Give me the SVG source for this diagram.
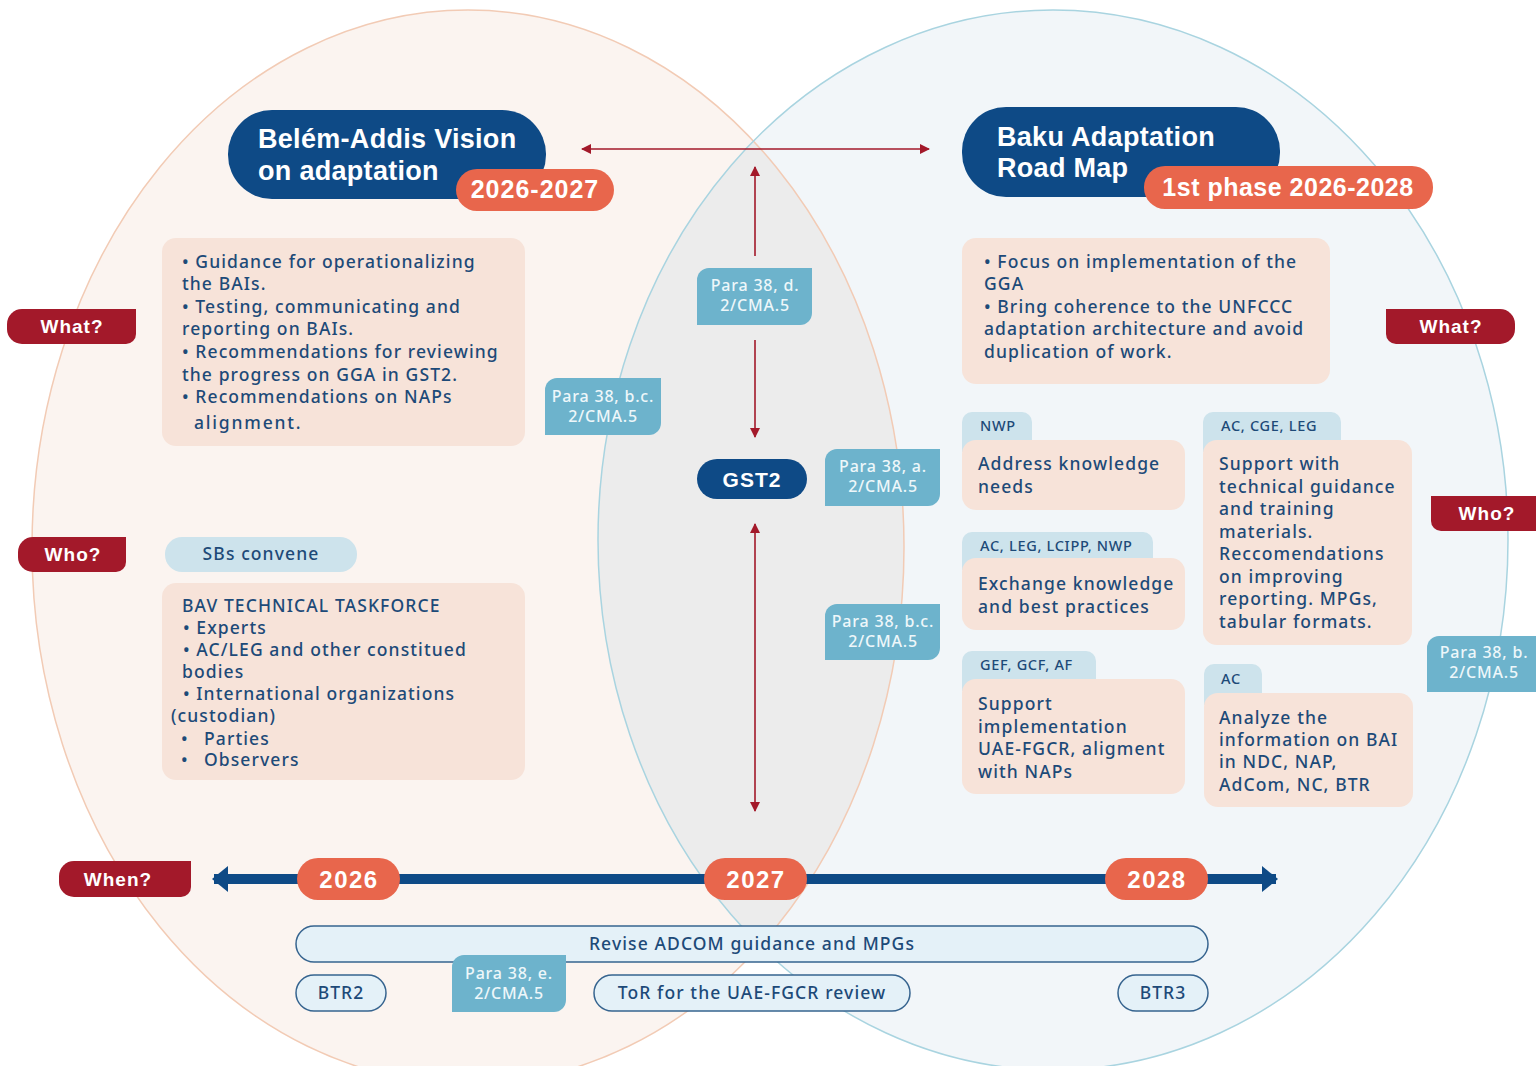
<svg xmlns="http://www.w3.org/2000/svg" width="1536" height="1066" viewBox="0 0 1536 1066">
<style>
.body{font-family:"Noto Sans",sans-serif;font-weight:500;font-size:17.5px;fill:#1d4a78;letter-spacing:1.1px}
.tab{font-family:"Noto Sans",sans-serif;font-weight:500;font-size:14.5px;fill:#1d4a78;letter-spacing:0.7px}
.tag{font-family:"Noto Sans",sans-serif;font-weight:500;font-size:16px;fill:#eef7fa;letter-spacing:0.8px;text-anchor:middle}
.lbl{font-family:"Liberation Sans",sans-serif;font-weight:bold;font-size:19px;fill:#ffffff;letter-spacing:1px;text-anchor:middle}
.title{font-family:"Liberation Sans",sans-serif;font-weight:bold;font-size:27px;fill:#ffffff;letter-spacing:0.3px}
.yr{font-family:"Liberation Sans",sans-serif;font-weight:bold;font-size:24px;fill:#ffffff;letter-spacing:1.5px;text-anchor:middle}
.peach{fill:#f7e3d9}
.lblue{fill:#cde3ec}
.tagf{fill:#6db3cc}
.red{fill:#a3192a}
.navy{fill:#0e4a86}
.orange{fill:#e8664c}
.pill{fill:#e4f1f8;stroke:#36648f;stroke-width:1.5}
.ra{stroke:#a3192a;stroke-width:1.6;fill:none}
</style>
<defs>
<clipPath id="clipR"><ellipse cx="1053" cy="540" rx="455" ry="530"/></clipPath>
<marker id="ah" viewBox="0 0 10 10" refX="9" refY="5" markerWidth="10" markerHeight="10" markerUnits="userSpaceOnUse" orient="auto-start-reverse"><path d="M0,0 L10,5 L0,10 Z" fill="#a3192a"/></marker>
<marker id="bh" viewBox="0 0 16 26" refX="14" refY="13" markerWidth="16" markerHeight="26" markerUnits="userSpaceOnUse" orient="auto-start-reverse"><path d="M0,0 L16,13 L0,26 Z" fill="#0e4a86"/></marker>
</defs>

<g id="background">
<ellipse cx="468" cy="547" rx="436" ry="537" fill="#fbf4f0"/>
<ellipse cx="1053" cy="540" rx="455" ry="530" fill="#f2f6f9"/>
<ellipse cx="468" cy="547" rx="436" ry="537" fill="#ececec" clip-path="url(#clipR)"/>
<ellipse cx="468" cy="547" rx="436" ry="537" fill="none" stroke="#f2cbb5" stroke-width="1.5"/>
<ellipse cx="1053" cy="540" rx="455" ry="530" fill="none" stroke="#a9d4e0" stroke-width="1.5"/>
</g>

<g id="connectors">
<line class="ra" x1="582" y1="149" x2="929" y2="149" marker-start="url(#ah)" marker-end="url(#ah)"/>
<line class="ra" x1="755" y1="256" x2="755" y2="167" marker-end="url(#ah)"/>
<line class="ra" x1="755" y1="340" x2="755" y2="437" marker-end="url(#ah)"/>
<line class="ra" x1="755" y1="524" x2="755" y2="811" marker-start="url(#ah)" marker-end="url(#ah)"/>
<line x1="214" y1="879" x2="1276" y2="879" stroke="#0e4a86" stroke-width="10" marker-start="url(#bh)" marker-end="url(#bh)"/>
</g>

<g id="bav-title">
<rect x="228" y="110" width="318" height="89" rx="44" class="navy"/>
<text class="title" x="258" y="148">Belém-Addis Vision</text>
<text class="title" x="258" y="180">on adaptation</text>
<rect x="456" y="169" width="158" height="42" rx="21" class="orange"/>
<text class="yr" x="535" y="198" style="font-size:25px;letter-spacing:1px">2026-2027</text>
</g>

<g id="bam-title">
<rect x="962" y="107" width="318" height="90" rx="44" class="navy"/>
<text class="title" x="997" y="146">Baku Adaptation</text>
<text class="title" x="997" y="177">Road Map</text>
<rect x="1144" y="166" width="289" height="43" rx="21" class="orange"/>
<text class="yr" x="1288" y="196" style="font-size:25px;letter-spacing:0.5px">1st phase 2026-2028</text>
</g>

<g id="what-left">
<path class="red" d="M136 309 H22 A15 15 0 0 0 7 324 V329 A15 15 0 0 0 22 344 H126 A10 10 0 0 0 136 334 Z"/>
<text class="lbl" x="72" y="333">What?</text>
</g>
<g id="who-left">
<path class="red" d="M126 537 H33 A15 15 0 0 0 18 552 V557 A15 15 0 0 0 33 572 H116 A10 10 0 0 0 126 562 Z"/>
<text class="lbl" x="73" y="561">Who?</text>
</g>
<g id="when">
<path class="red" d="M191 861 H74 A15 15 0 0 0 59 876 V882 A15 15 0 0 0 74 897 H181 A10 10 0 0 0 191 887 Z"/>
<text class="lbl" x="118" y="886">When?</text>
</g>
<g id="what-right">
<path class="red" d="M1386 309 H1500 A15 15 0 0 1 1515 324 V329 A15 15 0 0 1 1500 344 H1396 A10 10 0 0 1 1386 334 Z"/>
<text class="lbl" x="1451" y="333">What?</text>
</g>
<g id="who-right">
<path class="red" d="M1431 496 H1536 V531 H1441 A10 10 0 0 1 1431 521 Z"/>
<text class="lbl" x="1487" y="520">Who?</text>
</g>

<g id="bav-what">
<rect x="162" y="238" width="363" height="208" rx="14" class="peach"/>
<text class="body" x="182" y="268">• Guidance for operationalizing</text>
<text class="body" x="182" y="290">the BAIs.</text>
<text class="body" x="182" y="313">• Testing, communicating and</text>
<text class="body" x="182" y="335">reporting on BAIs.</text>
<text class="body" x="182" y="358">• Recommendations for reviewing</text>
<text class="body" x="182" y="381">the progress on GGA in GST2.</text>
<text class="body" x="182" y="403">• Recommendations on NAPs</text>
<text class="body" x="194" y="429" style="letter-spacing:1.8px">alignment.</text>
</g>

<g id="sbs-convene">
<rect x="165" y="537" width="192" height="35" rx="17" class="lblue"/>
<text class="body" x="261" y="560" text-anchor="middle">SBs convene</text>
</g>

<g id="bav-who">
<rect x="162" y="583" width="363" height="197" rx="14" class="peach"/>
<text class="body" x="182" y="612">BAV TECHNICAL TASKFORCE</text>
<text class="body" x="183" y="634">• Experts</text>
<text class="body" x="183" y="656">• AC/LEG and other constitued</text>
<text class="body" x="182" y="678">bodies</text>
<text class="body" x="183" y="700">• International organizations</text>
<text class="body" x="171" y="722">(custodian)</text>
<text class="body" x="181" y="745">•</text><text class="body" x="204" y="745">Parties</text>
<text class="body" x="181" y="766">•</text><text class="body" x="204" y="766">Observers</text>
</g>

<g id="bam-what">
<rect x="962" y="238" width="368" height="146" rx="14" class="peach"/>
<text class="body" x="984" y="268">• Focus on implementation of the</text>
<text class="body" x="984" y="290">GGA</text>
<text class="body" x="984" y="313">• Bring coherence to the UNFCCC</text>
<text class="body" x="984" y="335">adaptation architecture and avoid</text>
<text class="body" x="984" y="358">duplication of work.</text>
</g>

<g id="nwp">
<path class="lblue" d="M962 452 V422 A10 10 0 0 1 972 412 H1022 A10 10 0 0 1 1032 422 V452 Z"/>
<rect x="962" y="440" width="223" height="70" rx="14" class="peach"/>
<text class="tab" x="980" y="431">NWP</text>
<text class="body" x="978" y="470">Address knowledge</text>
<text class="body" x="978" y="493">needs</text>
</g>

<g id="ac-cge-leg">
<path class="lblue" d="M1203 452 V422 A10 10 0 0 1 1213 412 H1331 A10 10 0 0 1 1341 422 V452 Z"/>
<rect x="1203" y="440" width="209" height="205" rx="14" class="peach"/>
<text class="tab" x="1221" y="431">AC, CGE, LEG</text>
<text class="body" x="1219" y="470">Support with</text>
<text class="body" x="1219" y="493">technical guidance</text>
<text class="body" x="1219" y="515">and training</text>
<text class="body" x="1219" y="538">materials.</text>
<text class="body" x="1219" y="560">Reccomendations</text>
<text class="body" x="1219" y="583">on improving</text>
<text class="body" x="1219" y="605">reporting. MPGs,</text>
<text class="body" x="1219" y="628">tabular formats.</text>
</g>

<g id="exchange">
<path class="lblue" d="M962 570 V542 A10 10 0 0 1 972 532 H1143 A10 10 0 0 1 1153 542 V570 Z"/>
<rect x="962" y="558" width="223" height="72" rx="14" class="peach"/>
<text class="tab" x="980" y="551">AC, LEG, LCIPP, NWP</text>
<text class="body" x="978" y="590">Exchange knowledge</text>
<text class="body" x="978" y="613">and best practices</text>
</g>

<g id="gef">
<path class="lblue" d="M962 691 V661 A10 10 0 0 1 972 651 H1086 A10 10 0 0 1 1096 661 V691 Z"/>
<rect x="962" y="679" width="223" height="115" rx="14" class="peach"/>
<text class="tab" x="980" y="670">GEF, GCF, AF</text>
<text class="body" x="978" y="710">Support</text>
<text class="body" x="978" y="733">implementation</text>
<text class="body" x="978" y="755">UAE-FGCR, aligment</text>
<text class="body" x="978" y="778">with NAPs</text>
</g>

<g id="ac">
<path class="lblue" d="M1204 705 V674 A10 10 0 0 1 1214 664 H1252 A10 10 0 0 1 1262 674 V705 Z"/>
<rect x="1204" y="693" width="209" height="114" rx="14" class="peach"/>
<text class="tab" x="1221" y="684">AC</text>
<text class="body" x="1219" y="724">Analyze the</text>
<text class="body" x="1219" y="746">information on BAI</text>
<text class="body" x="1219" y="768">in NDC, NAP,</text>
<text class="body" x="1219" y="791">AdCom, NC, BTR</text>
</g>

<g id="gst2">
<rect x="697" y="459" width="110" height="40" rx="20" class="navy"/>
<text class="yr" x="752" y="487" style="font-size:21px;letter-spacing:1px">GST2</text>
</g>

<g id="tag-d">
<path class="tagf" d="M709 268 H812 V313 A12 12 0 0 1 800 325 H697 V280 A12 12 0 0 1 709 268 Z"/>
<text class="tag" x="755" y="291">Para 38, d.</text>
<text class="tag" x="755" y="311">2/CMA.5</text>
</g>
<g id="tag-bc-left">
<path class="tagf" d="M557 378 H661 V423 A12 12 0 0 1 649 435 H545 V390 A12 12 0 0 1 557 378 Z"/>
<text class="tag" x="603" y="402">Para 38, b.c.</text>
<text class="tag" x="603" y="422">2/CMA.5</text>
</g>
<g id="tag-a">
<path class="tagf" d="M837 449 H940 V494 A12 12 0 0 1 928 506 H825 V461 A12 12 0 0 1 837 449 Z"/>
<text class="tag" x="883" y="472">Para 38, a.</text>
<text class="tag" x="883" y="492">2/CMA.5</text>
</g>
<g id="tag-bc-mid">
<path class="tagf" d="M837 604 H940 V648 A12 12 0 0 1 928 660 H825 V616 A12 12 0 0 1 837 604 Z"/>
<text class="tag" x="883" y="627">Para 38, b.c.</text>
<text class="tag" x="883" y="647">2/CMA.5</text>
</g>
<g id="tag-b">
<path class="tagf" d="M1439 636 H1536 V692 H1427 V648 A12 12 0 0 1 1439 636 Z"/>
<text class="tag" x="1484" y="658">Para 38, b.</text>
<text class="tag" x="1484" y="678">2/CMA.5</text>
</g>

<g id="year-2026">
<rect x="297" y="858" width="103" height="42" rx="21" class="orange"/>
<text class="yr" x="349" y="888">2026</text>
</g>
<g id="year-2027">
<rect x="704" y="858" width="103" height="42" rx="21" class="orange"/>
<text class="yr" x="756" y="888">2027</text>
</g>
<g id="year-2028">
<rect x="1105" y="858" width="103" height="42" rx="21" class="orange"/>
<text class="yr" x="1157" y="888">2028</text>
</g>

<g id="revise">
<rect x="296" y="926" width="912" height="36" rx="18" class="pill"/>
<text class="body" x="752" y="950" text-anchor="middle">Revise ADCOM guidance and MPGs</text>
</g>
<g id="btr2">
<rect x="296" y="975" width="90" height="36" rx="18" class="pill"/>
<text class="body" x="341" y="999" text-anchor="middle">BTR2</text>
</g>
<g id="tor">
<rect x="594" y="975" width="316" height="36" rx="18" class="pill"/>
<text class="body" x="752" y="999" text-anchor="middle">ToR for the UAE-FGCR review</text>
</g>
<g id="btr3">
<rect x="1118" y="975" width="90" height="36" rx="18" class="pill"/>
<text class="body" x="1163" y="999" text-anchor="middle">BTR3</text>
</g>
<g id="tag-e">
<path class="tagf" d="M464 955 H566 V1000 A12 12 0 0 1 554 1012 H452 V967 A12 12 0 0 1 464 955 Z"/>
<text class="tag" x="509" y="979">Para 38, e.</text>
<text class="tag" x="509" y="999">2/CMA.5</text>
</g>
</svg>
